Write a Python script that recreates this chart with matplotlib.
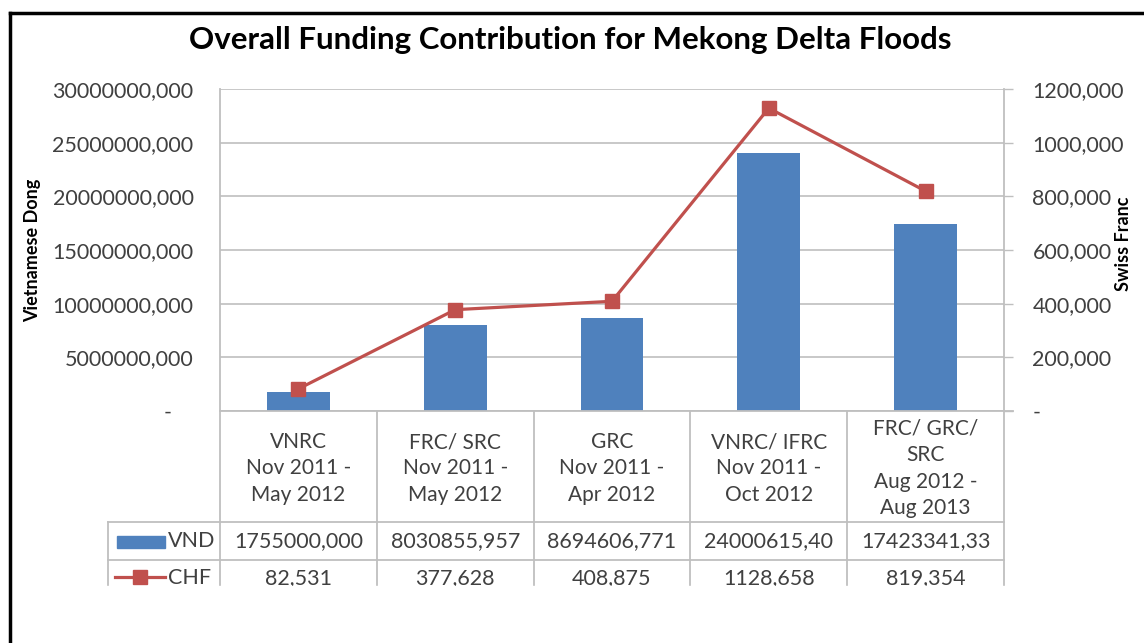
# -*- coding: utf-8 -*-

# Importing Libraries
import matplotlib.pyplot as plt
import matplotlib.transforms as mtransforms
from matplotlib.lines import Line2D
from matplotlib.patches import Rectangle
import numpy as np

plt.rcParams['font.family'] = ['Lato', 'DejaVu Sans']

# data
categories = ['VNRC\nNov 2011 -\nMay 2012',
              'FRC/ SRC\nNov 2011 -\nMay 2012',
              'GRC\nNov 2011 -\nApr 2012',
              'VNRC/ IFRC\nNov 2011 -\nOct 2012',
              'FRC/ GRC/\nSRC\nAug 2012 -\nAug 2013']
vnd = [1755000.000, 8030855.957, 8694606.771, 24000615.40, 17423341.33]
chf = [82.531, 377.628, 408.875, 1128.658, 819.354]
vnd_labels = ['1755000,000', '8030855,957', '8694606,771', '24000615,40', '17423341,33']
chf_labels = ['82,531', '377,628', '408,875', '1128,658', '819,354']
vnd_ticks = [0, 5e6, 10e6, 15e6, 20e6, 25e6, 30e6]
chf_ticks = [0, 200, 400, 600, 800, 1000, 1200]

blue = '#4F81BD'
red = '#C0504D'
grid = '#BFBFBF'
txt = '#404040'

W, H = 1144, 643
fig = plt.figure(figsize=(W / 100, H / 100), dpi=100)
ax = fig.add_axes([220 / W, (H - 411) / H, (1004 - 220) / W, (411 - 89) / H])
ax2 = ax.twinx()

x = np.arange(len(categories))

# bars and line
ax.bar(x, vnd, width=0.4, color=blue, zorder=3)
ax2.plot(x, chf, color=red, lw=2.3, marker='s', ms=10, zorder=4)

ax.set_xlim(-0.5, len(categories) - 0.5)
ax.set_ylim(0, 30e6)
ax2.set_ylim(0, 1200)

def fmt(v, zero):
    return zero if v == 0 else ('%.3f' % v).replace('.', ',')

ax.set_yticks(vnd_ticks)
ax.set_yticklabels([fmt(v, '-    ') for v in vnd_ticks])
ax2.set_yticks(chf_ticks)
ax2.set_yticklabels([fmt(v, '-') for v in chf_ticks])
ax.tick_params(axis='y', length=0, pad=19, labelsize=15.5, labelcolor=txt)
ax2.tick_params(axis='y', length=6.5, width=1, color=grid, pad=14,
                labelsize=15.5, labelcolor=txt)
ax.set_xticks([])

ax.yaxis.grid(True, color=grid, lw=1.2, zorder=0)
ax.set_axisbelow(True)
for a in (ax, ax2):
    for s in a.spines.values():
        s.set_visible(False)

ax.set_ylabel('Vietnamese Dong', fontsize=13, fontweight='bold')
ax.yaxis.set_label_coords(-0.228, 0.5)
ax2.set_ylabel('Swiss Franc', fontsize=13, fontweight='bold', rotation=90)
ax2.yaxis.set_label_coords(1.1416, 0.52)

fig.text(570 / W, 1 - 40 / H, 'Overall Funding Contribution for Mekong Delta Floods',
         ha='center', va='center', fontsize=22.5, fontweight='bold', color='black')

# data table below the plot (pixel based rows)
tr = mtransforms.blended_transform_factory(ax.transData, fig.transFigure)
def fy(py):
    return 1 - py / H

left = -0.5 - (220 - 108) / 157.0
edges = np.arange(len(categories) + 1) - 0.5
y_top, y_r1, y_r2, y_bot = 411, 522, 560, 590
lk = dict(color=grid, lw=1.3, transform=tr, clip_on=False, zorder=1)

fig.add_artist(Line2D([edges[0], edges[-1] + 0.06], [fy(y_top)] * 2, **lk))
fig.add_artist(Line2D([edges[0], edges[0]], [fy(89), fy(y_bot)], **lk))
fig.add_artist(Line2D([edges[-1], edges[-1]], [fy(89), fy(y_bot)], **lk))
for e in edges[1:-1]:
    fig.add_artist(Line2D([e, e], [fy(y_top), fy(y_bot)], **lk))
for yy in (y_r1, y_r2):
    fig.add_artist(Line2D([left, edges[-1]], [fy(yy)] * 2, **lk))
fig.add_artist(Line2D([left, left], [fy(y_r1), fy(y_bot)], **lk))

for i, c in enumerate(categories):
    fig.text(x[i], fy((y_top + y_r1) / 2 + 2), c, transform=tr, ha='center', va='center',
             fontsize=15, color=txt, linespacing=1.4)
    fig.text(x[i], fy((y_r1 + y_r2) / 2), vnd_labels[i], transform=tr, ha='center',
             va='center', fontsize=15.5, color=txt)
    fig.text(x[i], fy(y_r2 + 18), chf_labels[i], transform=tr, ha='center',
             va='center', fontsize=15.5, color=txt)

# legend keys inside table
fig.add_artist(Rectangle((117 / W, fy(548)), 48 / W, 12 / H, color=blue, zorder=3))
fig.text(168 / W, fy(541), 'VND', ha='left', va='center', fontsize=15.5, color=txt)
fig.add_artist(Line2D([115 / W, 165 / W], [fy(577)] * 2, color=red, lw=2.3, zorder=3))
fig.add_artist(Line2D([140 / W], [fy(577)], color=red, marker='s', ms=10, zorder=3))
fig.text(168 / W, fy(578), 'CHF', ha='left', va='center', fontsize=15.5, color=txt)

# picture is cut off under the table
fig.add_artist(Rectangle((0, 0), 1, fy(586), color='white', zorder=10))

# black frame on top / left
fig.add_artist(Line2D([10 / W, 1], [fy(13)] * 2, color='black', lw=2.5, zorder=11))
fig.add_artist(Line2D([10 / W, 10 / W], [fy(13), 0], color='black', lw=2.5, zorder=11))

plt.savefig('out.png', dpi=100)
